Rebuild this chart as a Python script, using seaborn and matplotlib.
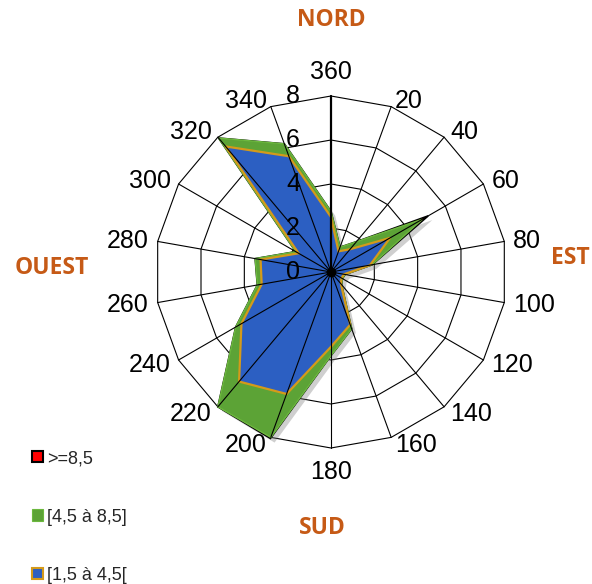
import numpy as np
import matplotlib
matplotlib.use("Agg")
import matplotlib.pyplot as plt
import matplotlib.patheffects as pe
from matplotlib.patches import Patch
import seaborn as sns

# wind directions (deg, clockwise from north) and their labels
directions = [0, 20, 40, 60, 80, 100, 120, 140, 160, 180, 200, 220, 240, 260, 280, 300, 320, 340]
dir_labels = ['360', '20', '40', '60', '80', '100', '120', '140', '160', '180',
              '200', '220', '240', '260', '280', '300', '320', '340']
r_ticks = [0, 2, 4, 6, 8]

# frequencies per speed class (as plotted)
s_sup85 = [2.75, 1.2, 1.8, 5.1, 1.9, 0.65, 0.6, 0.75, 2.75, 3.8, 8.05, 8.0, 5.0, 3.4, 3.5, 1.85, 7.95, 6.2]
s_45_85 = [2.75, 1.2, 1.8, 4.8, 1.9, 0.65, 0.6, 0.75, 2.75, 3.8, 8.0, 8.0, 5.0, 3.4, 3.5, 1.85, 7.95, 6.2]
s_15_45 = [2.5, 1.0, 1.35, 3.1, 1.8, 0.6, 0.55, 0.7, 2.55, 3.4, 5.9, 6.5, 4.7, 3.2, 3.25, 1.7, 7.45, 5.6]

series_names = ['>=8,5', '[4,5 à 8,5]', '[1,5 à 4,5[']

sns.set_theme(style="white")
plt.rcParams['font.family'] = ['Liberation Sans', 'DejaVu Sans']

RED, GREEN, BLUE = '#ff0000', '#5ca336', '#2c5fc2'
GOLD = '#d49a1a'
ORANGE = '#c65a16'

fig = plt.figure(figsize=(5.92, 5.84), dpi=100)
ax = fig.add_axes([0.2618, 0.2329, 0.5946, 0.6027], projection='polar')
ax.set_theta_zero_location('N')
ax.set_theta_direction(-1)
ax.set_ylim(0, 8)
ax.grid(False)
ax.set_xticks([])
ax.set_yticks([])
ax.spines['polar'].set_visible(False)
ax.patch.set_alpha(0)

theta = np.deg2rad(directions)
theta_c = np.append(theta, theta[0])

def closed(v):
    return np.append(v, v[0])

# polygon grid rings
for r in r_ticks[1:]:
    ax.plot(theta_c, [r] * len(theta_c), color='black', lw=0.8, zorder=1, clip_on=False)

# filled series
outer = ax.fill(theta_c, closed(s_sup85), facecolor=RED, edgecolor='black', lw=1.2,
                zorder=2, clip_on=False)
outer[0].set_path_effects([pe.SimplePatchShadow(offset=(3, -3), shadow_rgbFace='#777777', alpha=0.35),
                           pe.Normal()])
ax.fill(theta_c, closed(s_45_85), facecolor=GREEN, edgecolor='#6cb83e', lw=1.0,
        zorder=3, clip_on=False)
ax.fill(theta_c, closed(s_15_45), facecolor=BLUE, edgecolor=GOLD, lw=1.6,
        zorder=4, clip_on=False)

# spokes
for t in theta:
    ax.plot([t, t], [0, 8], color='black', lw=1.6 if t == 0 else 0.8, zorder=5, clip_on=False)
ax.plot([0], [0], 'o', color='black', ms=6, zorder=6)

# direction labels next to the outer ring vertices
for t, lab in zip(theta, dir_labels):
    s, c = np.sin(t), np.cos(t)
    if abs(s) < 0.01:
        ha, dx, dy = 'center', 0, 24 * np.sign(c)
    else:
        ha = 'left' if s > 0 else 'right'
        dx = np.sign(s) * (1 + 8 * abs(s))
        dy = 7.5 * c - 1
    ax.annotate(lab, xy=(t, 8), xytext=(dx, dy), textcoords='offset pixels',
                ha=ha, va='center', fontsize=18, color='black', annotation_clip=False,
                zorder=7)

# radial value labels left of the north axis
for r in r_ticks:
    ax.annotate(str(r), xy=(0, r), xytext=(-38, 0), textcoords='offset pixels',
                ha='center', va='center', fontsize=18, color='black', annotation_clip=False,
                zorder=7)

# compass points
cfont = dict(family=['Open Sans', 'DejaVu Sans'], fontweight='bold', fontsize=16.5,
             color=ORANGE, ha='center', va='center')
fig.text(331 / 592, 1 - 20 / 584, 'NORD', **cfont)
fig.text(570 / 592, 1 - 258 / 584, 'EST', **cfont)
fig.text(52 / 592, 1 - 268 / 584, 'OUEST', **cfont)
fig.text(322 / 592, 1 - 528 / 584, 'SUD', **cfont)

handles = [
    Patch(facecolor=RED, edgecolor='black', lw=1.5),
    Patch(facecolor=GREEN, edgecolor='#6cb83e', lw=0.8),
    Patch(facecolor=BLUE, edgecolor=GOLD, lw=1.5),
]
fig.legend(handles, series_names, loc='upper left', bbox_to_anchor=(32 / 592, 1 - 450 / 584),
           frameon=False, fontsize=13, handlelength=0.6, handleheight=0.6,
           handletextpad=0.25, labelspacing=2.3, borderpad=0, borderaxespad=0)

fig.savefig('out.png', dpi=100)
